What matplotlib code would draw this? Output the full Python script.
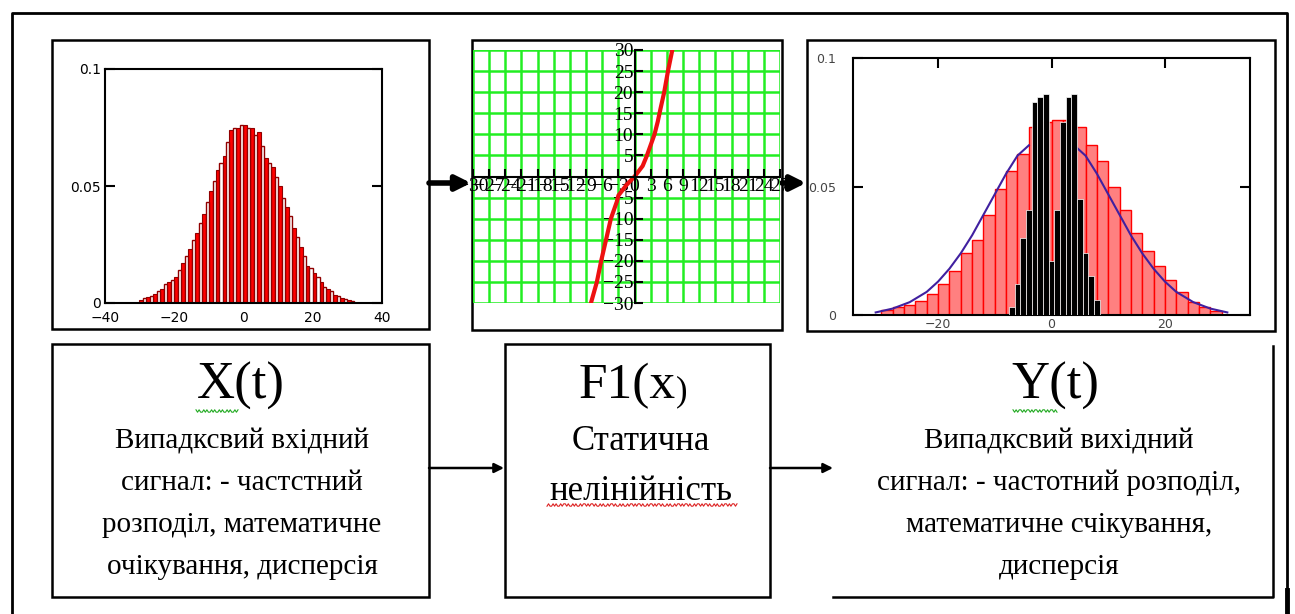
import numpy as np
import matplotlib.pyplot as plt
from matplotlib.patches import Rectangle


# -----------------------------
# Data
# -----------------------------

# input histogram: filled red bars and hollow bars, one pair per 2-unit bin
in_bins = np.arange(-30, 31, 2)
in_red = [0.0012, 0.0025, 0.004, 0.006, 0.009, 0.011, 0.017, 0.023, 0.030, 0.038,
          0.048, 0.057, 0.063, 0.074, 0.075, 0.076, 0.075, 0.073, 0.062, 0.058,
          0.050, 0.041, 0.032, 0.024, 0.016, 0.013, 0.009, 0.006, 0.0035, 0.002, 0.0012]
in_hollow = [0.002, 0.003, 0.005, 0.008, 0.010, 0.014, 0.020, 0.027, 0.034, 0.043,
             0.052, 0.060, 0.069, 0.075, 0.076, 0.075, 0.072, 0.067, 0.060, 0.054,
             0.045, 0.037, 0.028, 0.020, 0.015, 0.011, 0.007, 0.005, 0.003, 0.0015, 0.001]

# static nonlinearity F1(x)
f_x = [-8.1, -7.0, -6.2, -5.3, -4.4, -3.3, -3.0, -1.5, 0.0, 1.5, 2.3, 3.0, 3.7, 4.3, 4.8, 5.5, 6.2, 7.0]
f_y = [-30, -25, -20, -15, -10, -6, -4.5, -2, 0, 2.5, 5, 7.5, 10, 13, 16, 20, 25, 30]

# output panel: reference histogram (pink), fitted curve (blue, hidden in the middle),
# output histogram (black)
out_edges = np.arange(-30, 31, 2)
out_ref = [0.002, 0.003, 0.004, 0.0056, 0.008, 0.012, 0.017, 0.024, 0.029, 0.039,
           0.049, 0.056, 0.0626, 0.073, 0.075, 0.076, 0.076, 0.073, 0.066, 0.060,
           0.050, 0.041, 0.032, 0.025, 0.019, 0.0136, 0.009, 0.005, 0.003, 0.0017]
curve_x = [-31, -28, -25, -22, -20, -18, -16, -14, -12, -10, -8, -6, -4, -2, 0,
           2, 4, 6, 8, 10, 12, 14, 16, 18, 20, 22, 25, 28, 31]
curve_y = [0.001, 0.0025, 0.005, 0.009, 0.013, 0.018, 0.024, 0.031, 0.039, 0.047,
           0.055, 0.062, 0.066, np.nan, np.nan, np.nan, 0.066, 0.062, 0.055, 0.047,
           0.039, 0.031, 0.024, 0.018, 0.013, 0.009, 0.005, 0.0025, 0.001]
out_x = [-7, -6, -5, -4, -3, -2, -1, 0, 1, 2, 3, 4, 5, 6, 7, 8]
out_h = [0.003, 0.012, 0.030, 0.041, 0.083, 0.085, 0.086, 0.021, 0.041, 0.075,
         0.085, 0.086, 0.045, 0.024, 0.015, 0.006]

x_title = "X(t)"
x_text = ["Випадксвий вхідний", "сигнал: - частстний", "розподіл, математичне", "очікування, дисперсія"]
f_title = "F1(x"
f_text = ["Статична", "нелінійність"]
y_title = "Y(t)"
y_text = ["Випадксвий вихідний", "сигнал: - частотний розподіл,", "математичне счікування,", "дисперсія"]


# -----------------------------
# Figure + helpers (pixel layout)
# -----------------------------

W, H = 1295, 614
fig = plt.figure(figsize=(12.95, 6.14), dpi=100)


def rect(x0, y0, x1, y1):
    return [x0 / W, 1 - y1 / H, (x1 - x0) / W, (y1 - y0) / H]


ov = fig.add_axes([0, 0, 1, 1])
ov.set_xlim(0, W)
ov.set_ylim(H, 0)
ov.axis('off')

serif = 'Liberation Serif'

# outer frame
ov.plot([12, 12, 1287, 1287], [614, 13, 13, 614], color='k', lw=2)
ov.plot([1287, 1287], [590, 614], color='k', lw=3.5)

# panel boxes
for x0, y0, x1, y1 in [(52, 40, 429, 329), (472, 40, 782, 330), (807, 40, 1275, 331),
                       (52, 344, 429, 597), (505, 344, 770, 597)]:
    ov.add_patch(Rectangle((x0, y0), x1 - x0, y1 - y0, fill=False, ec='k', lw=1.8))
ov.plot([1273, 1273, 833], [346, 597, 597], color='k', lw=1.8)

# arrows
for xa, xb, yy, lw, ms in [(429, 471, 183, 4, 22), (782, 806, 183, 4, 22),
                           (429, 504, 468, 1.8, 14), (770, 833, 468, 1.8, 14)]:
    ov.annotate('', xy=(xb, yy), xytext=(xa, yy),
                arrowprops=dict(arrowstyle='-|>', lw=lw, color='k', mutation_scale=ms,
                                shrinkA=0, shrinkB=0))

# block texts
ov.text(241, 386, x_title, fontsize=38, family=serif, ha='center', va='center')
for i, s in enumerate(x_text):
    ov.text(242, 441 + 42 * i, s, fontsize=21, family=serif, ha='center', va='center')

ov.text(676, 386, f_title, fontsize=37, family=serif, ha='right', va='center')
ov.text(676, 392, ")", fontsize=25, family=serif, ha='left', va='center')
for i, s in enumerate(f_text):
    ov.text(641, 441 + 51 * i, s, fontsize=25, family=serif, ha='center', va='center')

ov.text(1055, 386, y_title, fontsize=38, family=serif, ha='center', va='center')
for i, s in enumerate(y_text):
    ov.text(1059, 441 + 42 * i, s, fontsize=21, family=serif, ha='center', va='center')

# wavy spell-check underlines
for xa, xb, yy, col in [(196, 238, 411, '#22aa22'), (1013, 1057, 411, '#22aa22'),
                        (547, 737, 505, '#dd2222')]:
    xs = np.linspace(xa, xb, int((xb - xa) / 1.5))
    ov.plot(xs, yy + 1.2 * np.sign(np.sin(xs * 1.6)), color=col, lw=0.8)


# -----------------------------
# Panel 1 : input histogram
# -----------------------------

ax1 = fig.add_axes(rect(105, 69, 382, 303))
ax1.bar(in_bins + 0.5, in_red, width=1.1, color='red', edgecolor='#900000', lw=0.8)
ax1.bar(in_bins + 1.5, in_hollow, width=0.9, facecolor='white', edgecolor='#900000', lw=1)
ax1.set_xlim(-40, 40)
ax1.set_ylim(0, 0.1)
for sp in ax1.spines.values():
    sp.set_linewidth(1.5)
ax1.set_xticks([-40, -20, 0, 20, 40])
ax1.set_xticks([-20, 0, 20], minor=True)
ax1.set_yticks([0, 0.05, 0.1])
ax1.set_yticklabels(['0', '0.05', '0.1'])
ax1.tick_params(axis='x', which='major', bottom=False, top=False, labelsize=10, pad=2)
ax1.tick_params(axis='x', which='minor', top=True, bottom=False, direction='in',
                length=7, width=1.5)
ax1.tick_params(axis='y', left=True, right=True, direction='in', length=7, width=1.5,
                labelsize=10, pad=3)


# -----------------------------
# Panel 2 : static nonlinearity
# -----------------------------

ax2 = fig.add_axes(rect(473, 50, 780, 303))
ax2.set_xlim(-30, 27)
ax2.set_ylim(-30, 30)
ax2.set_xticks(np.arange(-30, 28, 3))
ax2.set_yticks([v for v in range(-30, 31, 5) if v != 0])
ax2.grid(True, color='#22ee22', lw=1.8)
ax2.spines['left'].set_position(('data', 0))
ax2.spines['bottom'].set_position(('data', 0))
ax2.spines['right'].set_visible(False)
ax2.spines['top'].set_visible(False)
ax2.spines['left'].set_linewidth(1.5)
ax2.spines['bottom'].set_linewidth(1.5)
ax2.plot(f_x, f_y, color='#ee1111', lw=3)
ax2.tick_params(direction='in', length=6, width=1.5, labelsize=14, pad=1)
for lab in ax2.get_xticklabels() + ax2.get_yticklabels():
    lab.set_family(serif)


# -----------------------------
# Panel 3 : output histogram
# -----------------------------

ax3 = fig.add_axes(rect(853, 58, 1250, 315))
ax3.bar(out_edges[:-1], out_ref, width=2, align='edge', color='#ff8080',
        edgecolor='red', lw=1, zorder=1)
ax3.plot(curve_x, curve_y, color='#4020a0', lw=1.5, zorder=2)
ax3.bar(out_x, out_h, width=1.0, color='black', edgecolor='white', lw=0.5, zorder=3)
ax3.set_xlim(-35, 35)
ax3.set_ylim(0, 0.1)
for sp in ax3.spines.values():
    sp.set_linewidth(1.5)
ax3.set_xticks([-20, 0, 20])
ax3.set_yticks([0, 0.05, 0.1])
ax3.set_yticklabels(['0', '0.05', '0.1'])
ax3.tick_params(axis='x', bottom=False, top=True, direction='in', length=7, width=1.5,
                labelsize=9, labelcolor='#444444', pad=2)
ax3.tick_params(axis='y', left=True, right=True, direction='in', length=7, width=1.5,
                labelsize=9, labelcolor='#444444', pad=12)

fig.savefig('out.png', dpi=100)
